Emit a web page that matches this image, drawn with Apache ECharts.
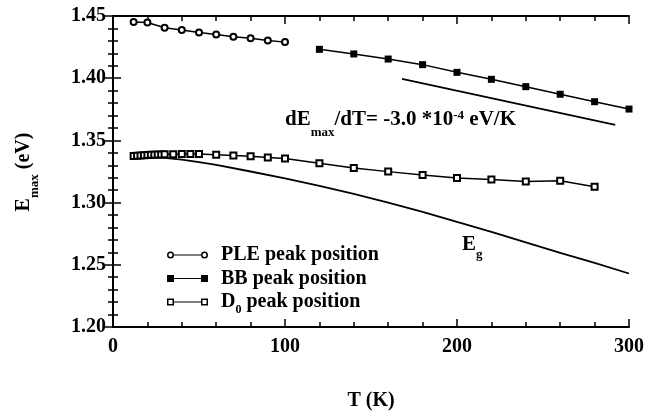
<!DOCTYPE html>
<html><head><meta charset="utf-8">
<script src="https://cdn.jsdelivr.net/npm/echarts@6/dist/echarts.min.js"></script>
<style>html,body{margin:0;padding:0;background:#fff}#wrap{position:relative;width:657px;height:418px}.c{position:absolute;left:0;top:0;width:657px;height:418px}</style>
</head><body><div id="wrap"><div class="c" id="axes"></div><div class="c" id="marks"></div></div>
<script>
// ---- data ----
const pleT = [12, 20, 30, 40, 50, 60, 70, 80, 90, 100];
const pleE = [1.4452, 1.4448, 1.4405, 1.4387, 1.4368, 1.4352, 1.4333, 1.4322, 1.4304, 1.4290];
const bbT = [120, 140, 160, 180, 200, 220, 240, 260, 280, 300];
const bbE = [1.4232, 1.4195, 1.4154, 1.4109, 1.4047, 1.3991, 1.3932, 1.3871, 1.3811, 1.3752];
const d0T = [12, 14, 16, 18, 20, 22, 24, 26, 28, 30, 35, 40, 45, 50, 60, 70, 80, 90, 100, 120, 140, 160, 180, 200, 220, 240, 260, 280];
const d0E = [1.3375, 1.3376, 1.3378, 1.3380, 1.3382, 1.3384, 1.3385, 1.3386, 1.3387, 1.3388, 1.3389, 1.3390, 1.3390, 1.3390, 1.3385, 1.3378, 1.3372, 1.3362, 1.3355, 1.3316, 1.3279, 1.3249, 1.3222, 1.3197, 1.3185, 1.3169, 1.3176, 1.3127];
const egT = [10, 20, 30, 40, 50, 60, 80, 100, 120, 140, 160, 180, 200, 220, 240, 260, 280, 300];
const egE = [1.3380, 1.3372, 1.3360, 1.3345, 1.3325, 1.3303, 1.3250, 1.3195, 1.3135, 1.3070, 1.3000, 1.2925, 1.2845, 1.2765, 1.2680, 1.2595, 1.2515, 1.2430];
const slopeT = [168, 292];
const slopeE = [1.3995, 1.3625];
const xTickLabels = [0, 100, 200, 300];
const yTickLabels = [1.20, 1.25, 1.30, 1.35, 1.40, 1.45];
const seriesNames = ['PLE peak position', 'BB peak position', 'D0 peak position'];

const zip = (a, b) => a.map((v, i) => [v, b[i]]);
const FF = '"Liberation Serif", "Times New Roman", serif';
const bold = { fontFamily: FF, fontWeight: 'bold', color: '#000' };
const xMin = xTickLabels[0], xMax = xTickLabels[xTickLabels.length - 1];
const yMin = yTickLabels[0], yMax = yTickLabels[yTickLabels.length - 1];
const gridBox = { left: 113, right: 28, top: 16, bottom: 91, outerBoundsMode: 'none' };

// ---- layer 1: frame, ticks, tick labels ----
const axisCommon = {
  axisLine: { show: true, lineStyle: { color: '#000', width: 2 } },
  axisTick: { show: true, inside: true, length: 8, lineStyle: { color: '#000', width: 1.5 } },
  minorTick: { show: true, splitNumber: 5, length: 5, lineStyle: { color: '#000', width: 1.5 } },
  splitLine: { show: false },
  minorSplitLine: { show: false }
};
const axesChart = echarts.init(document.getElementById('axes'));
axesChart.setOption({
  animation: false,
  backgroundColor: '#fff',
  grid: gridBox,
  xAxis: [
    Object.assign({}, axisCommon, {
      type: 'value', min: xMin, max: xMax, interval: 100, position: 'bottom',
      axisLabel: Object.assign({}, bold, { fontSize: 20, margin: 10, formatter: v => String(v) }),
      name: 'T (K)', nameLocation: 'middle', nameGap: 64, nameMoveOverlap: false,
      nameTextStyle: Object.assign({}, bold, { fontSize: 20 })
    }),
    Object.assign({}, axisCommon, {
      type: 'value', min: xMin, max: xMax, interval: 100, position: 'top', axisLabel: { show: false }
    })
  ],
  yAxis: [
    Object.assign({}, axisCommon, {
      type: 'value', min: yMin, max: yMax, interval: 0.05, position: 'left',
      axisLabel: Object.assign({}, bold, { fontSize: 20, margin: 7, padding: [6, 0, 0, 0], formatter: v => v.toFixed(2) })
    }),
    Object.assign({}, axisCommon, {
      type: 'value', min: yMin, max: yMax, interval: 0.05, position: 'right', axisLabel: { show: false }
    })
  ],
  series: []
});

// ---- layer 2: data, legend, annotations (same scales) ----
const marksChart = echarts.init(document.getElementById('marks'));
marksChart.setOption({
  animation: false,
  backgroundColor: 'transparent',
  grid: gridBox,
  xAxis: { type: 'value', min: xMin, max: xMax, interval: 100, show: false },
  yAxis: { type: 'value', min: yMin, max: yMax, interval: 0.05, show: false },
  legend: {
    orient: 'vertical', left: 162, top: 236, itemGap: -4.5,
    itemWidth: 41, itemHeight: 7,
    selectedMode: false,
    textStyle: Object.assign({}, bold, { fontSize: 20, lineHeight: 28, padding: [0, 0, 0, 8],
      rich: {
        a: Object.assign({}, bold, { fontSize: 20, lineHeight: 28 }),
        sub: Object.assign({}, bold, { fontSize: 12, lineHeight: 12, padding: [16, 0, 0, 0] })
      }
    }),
    formatter: name => name === seriesNames[2] ? '{a|D}{sub|0}{a| peak position}' : name,
    data: [
      { name: seriesNames[0], icon: 'path://M0.5,4a3.5,3.5 0 1,0 7,0a3.5,3.5 0 1,0 -7,0zM2,4a2,2 0 1,1 4,0a2,2 0 1,1 -4,0zM7.5,3.4h27v1.2h-27zM34.5,4a3.5,3.5 0 1,0 7,0a3.5,3.5 0 1,0 -7,0zM36,4a2,2 0 1,1 4,0a2,2 0 1,1 -4,0z', itemStyle: { color: '#000', borderWidth: 0 } },
      { name: seriesNames[1], icon: 'path://M0.5,0.5h7v7h-7zM7.5,3.4h27v1.2h-27zM34.5,0.5h7v7h-7z', itemStyle: { color: '#000', borderWidth: 0 } },
      { name: seriesNames[2], icon: 'path://M0.5,0.5h7v7h-7zM2,2v4h4v-4zM7.5,3.4h27v1.2h-27zM34.5,0.5h7v7h-7zM36,2v4h4v-4z', itemStyle: { color: '#000', borderWidth: 0 } }
    ]
  },
  series: [
    { name: seriesNames[0], type: 'line', data: zip(pleT, pleE), symbol: 'emptyCircle', symbolSize: 6,
      itemStyle: { color: '#000', borderWidth: 1.5 }, lineStyle: { color: '#000', width: 1.5 }, z: 3 },
    { name: seriesNames[1], type: 'line', data: zip(bbT, bbE), symbol: 'rect', symbolSize: 7,
      itemStyle: { color: '#000' }, lineStyle: { color: '#000', width: 1.5 }, z: 3 },
    { name: seriesNames[2], type: 'line', data: zip(d0T, d0E), symbol: 'emptyRect', symbolSize: 6,
      itemStyle: { color: '#000', borderWidth: 1.5 }, lineStyle: { color: '#000', width: 1.5 }, z: 3 },
    { name: 'Eg', type: 'line', data: zip(egT, egE), showSymbol: false, symbol: 'none', silent: true,
      lineStyle: { color: '#000', width: 1.8 }, z: 2 },
    { name: 'slope', type: 'line', data: zip(slopeT, slopeE), showSymbol: false, symbol: 'none', silent: true,
      lineStyle: { color: '#000', width: 1.8 }, z: 2 }
  ],
  graphic: [
    { type: 'text', x: 24, y: 172, rotation: Math.PI / 2, silent: true,
      style: { text: '{m|E}{sub|max}{m| (eV)}', align: 'center', verticalAlign: 'middle',
        rich: {
          m: { fontFamily: FF, fontWeight: 'bold', fontSize: 20, lineHeight: 24, fill: '#000' },
          sub: { fontFamily: FF, fontWeight: 'bold', fontSize: 13, lineHeight: 12, padding: [22, 0, 0, 0], fill: '#000' }
        } } },
    { type: 'text', x: 285, y: 120, silent: true,
      style: { text: '{m|dE}{sub|max}{m|/dT= -3.0 *10}{sup|-4}{m| eV/K}', verticalAlign: 'middle', align: 'left',
        rich: {
          m: { fontFamily: FF, fontWeight: 'bold', fontSize: 21, lineHeight: 24, fill: '#000' },
          sub: { fontFamily: FF, fontWeight: 'bold', fontSize: 13, lineHeight: 13, padding: [26, 0, 0, 0], fill: '#000' },
          sup: { fontFamily: FF, fontWeight: 'bold', fontSize: 13, lineHeight: 13, padding: [0, 0, 9, 0], fill: '#000' }
        } } },
    { type: 'text', x: 462, y: 245, silent: true,
      style: { text: '{m|E}{sub|g}', verticalAlign: 'middle', align: 'left',
        rich: {
          m: { fontFamily: FF, fontWeight: 'bold', fontSize: 21, lineHeight: 24, fill: '#000' },
          sub: { fontFamily: FF, fontWeight: 'bold', fontSize: 13, lineHeight: 13, padding: [19, 0, 0, 0], fill: '#000' }
        } } }
  ]
});
</script>
</body></html>
